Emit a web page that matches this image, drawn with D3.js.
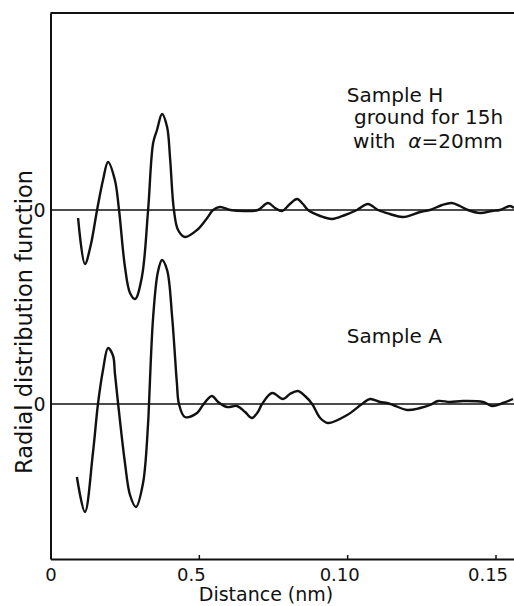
<!DOCTYPE html>
<html>
<head>
<meta charset="utf-8">
<script src="https://cdn.jsdelivr.net/npm/d3@7"></script>
<style>
  html, body { margin: 0; padding: 0; background: #fff; }
  svg { display: block; font-family: "DejaVu Sans", sans-serif; }
</style>
</head>
<body>
<div id="chart"></div>
<script>
// Distance (nm) and radial distribution function values (arbitrary units)
const distH = [0.0093, 0.0116, 0.0135, 0.0157, 0.0177, 0.0194, 0.0217, 0.0231, 0.0251, 0.0268, 0.0285, 0.0308,
  0.0329, 0.0346, 0.0359, 0.0376, 0.0393, 0.0403, 0.0416, 0.0430, 0.0453, 0.0494, 0.0528, 0.0548, 0.0571,
  0.0606, 0.0656, 0.0699, 0.0733, 0.0757, 0.0780, 0.0807, 0.0831, 0.0851, 0.0868, 0.0909, 0.0949, 0.0993,
  0.1033, 0.1070, 0.1104, 0.1144, 0.1188, 0.1246, 0.1279, 0.1320, 0.1353, 0.1380, 0.1407, 0.1448, 0.1488,
  0.1515, 0.1549, 0.1562];
const rdfH = [-0.8, -5.4, -3.6, 0, 3.0, 4.8, 3.0, 0, -5.7, -8.3, -8.9, -6.7,
  0, 6.7, 8.0, 9.6, 8.3, 5.2, 0, -2.0, -2.7, -2.0, -0.8, 0, 0.3,
  0, -0.1, 0, 0.7, 0.2, -0.1, 0.6, 1.1, 0.6, 0, -0.6, -0.9, -0.5,
  0, 0.6, 0, -0.4, -0.7, -0.2, 0, 0.5, 0.7, 0.4, 0, -0.3, -0.1,
  0, 0.4, 0.2];

const distA = [0.0089, 0.0116, 0.0143, 0.0160, 0.0177, 0.0194, 0.0211, 0.0217, 0.0228, 0.0251, 0.0268, 0.0288,
  0.0312, 0.0329, 0.0332, 0.0346, 0.0362, 0.0376, 0.0393, 0.0410, 0.0426, 0.0433, 0.0453, 0.0494, 0.0514,
  0.0544, 0.0565, 0.0595, 0.0629, 0.0656, 0.0679, 0.0699, 0.0713, 0.0747, 0.0784, 0.0807, 0.0834, 0.0858,
  0.0882, 0.0909, 0.0935, 0.1000, 0.1050, 0.1077, 0.1111, 0.1134, 0.1155, 0.1202, 0.1246, 0.1279, 0.1306,
  0.1347, 0.1390, 0.1458, 0.1488, 0.1525, 0.1559];
const rdfA = [-7.3, -10.8, -4.9, 0, 3.4, 5.6, 4.8, 3.1, 0, -5.9, -9.1, -10.3,
  -7.9, -1.9, 0, 8.7, 13.2, 14.4, 13.4, 8.7, 2.1, 0, -1.3, -0.9, -0.1,
  0.8, 0.2, -0.3, -0.2, -0.8, -1.4, -0.8, 0, 1.1, 0.5, 1.0, 1.3, 0.8,
  0, -1.4, -1.9, -1.1, 0, 0.5, 0.2, 0.1, -0.1, -0.6, -0.4, -0.1, 0.3,
  0.2, 0.3, 0.2, -0.2, 0.1, 0.5];

// vertical offset of each curve's zero line
const offsets = [34.9, 15.5];
const xTicks = [0, 0.05, 0.10, 0.15];
const xTickLabels = ['0', '0.5', '0.10', '0.15'];

const width = 514, height = 606;
const margin = { top: 13, left: 50.5, bottom: 47 };

const svg = d3.select('#chart').append('svg')
  .attr('width', width)
  .attr('height', height);

const x = d3.scaleLinear().domain([0, 0.1565]).range([margin.left, 50.5 + 0.1565 * 2966.7]);
const y = d3.scaleLinear().domain([0, 54.6]).range([height - margin.bottom, margin.top]);

// frame: left axis, top border, bottom axis
svg.append('g')
  .attr('transform', `translate(${margin.left},0)`)
  .call(d3.axisLeft(y).tickValues(offsets).tickSize(0).tickPadding(5).tickFormat(() => '0'))
  .call(g => g.select('.domain').attr('stroke', '#111').attr('stroke-width', 2))
  .call(g => g.selectAll('text').attr('font-size', 19).attr('fill', '#111').attr('font-family', 'DejaVu Sans'));

svg.append('line')
  .attr('x1', x(0)).attr('x2', x.range()[1])
  .attr('y1', y(54.6)).attr('y2', y(54.6))
  .attr('stroke', '#111').attr('stroke-width', 2);

const labelOf = d3.scaleOrdinal().domain(xTicks).range(xTickLabels);
svg.append('g')
  .attr('transform', `translate(0,${y(0)})`)
  .call(d3.axisBottom(x).tickValues(xTicks).tickSizeInner(-4).tickSizeOuter(0).tickPadding(9).tickFormat(labelOf))
  .call(g => g.select('.domain').attr('stroke', '#111').attr('stroke-width', 2))
  .call(g => g.selectAll('.tick line').attr('stroke', '#111').attr('stroke-width', 1.5))
  .call(g => g.selectAll('.tick text')
    .attr('font-size', 18).attr('fill', '#111').attr('font-family', 'DejaVu Sans')
    .attr('dx', d => d ? -8 : 0));

// zero lines
svg.selectAll('.zero')
  .data(offsets)
  .enter().append('line')
  .attr('x1', x(0)).attr('x2', x.range()[1])
  .attr('y1', d => y(d)).attr('y2', d => y(d))
  .attr('stroke', '#111').attr('stroke-width', 1.5);

// curves
const series = [
  { dist: distH, rdf: rdfH, off: offsets[0] },
  { dist: distA, rdf: rdfA, off: offsets[1] }
];
series.forEach(s => {
  const line = d3.line()
    .x((d, i) => x(s.dist[i]))
    .y(d => y(d + s.off))
    .curve(d3.curveCatmullRom.alpha(0.5));
  svg.append('path')
    .datum(s.rdf)
    .attr('d', line)
    .attr('fill', 'none')
    .attr('stroke', '#111')
    .attr('stroke-width', 2.4)
    .attr('stroke-linejoin', 'round');
});

// axis titles
svg.append('text')
  .attr('x', 266).attr('y', 601)
  .attr('text-anchor', 'middle')
  .attr('font-size', 19).attr('fill', '#111')
  .text('Distance (nm)');

svg.append('text')
  .attr('transform', `translate(32,${y(23.7)}) rotate(-90)`)
  .attr('text-anchor', 'middle')
  .attr('font-size', 22.5).attr('fill', '#111')
  .text('Radial distribution function');

// sample annotations
const note = svg.append('g').attr('font-size', 20).attr('fill', '#111');
note.append('text').attr('x', x(0.0999)).attr('y', 102).text('Sample H');
note.append('text').attr('x', x(0.1023)).attr('y', 124).text('ground for 15h');
const w = note.append('text').attr('x', x(0.1020)).attr('y', 148).style('white-space', 'pre');
w.append('tspan').text('with  ');
w.append('tspan').attr('font-style', 'italic').text('α');
w.append('tspan').text('=20mm');
note.append('text').attr('x', x(0.0999)).attr('y', 343).text('Sample A');
</script>
</body>
</html>
